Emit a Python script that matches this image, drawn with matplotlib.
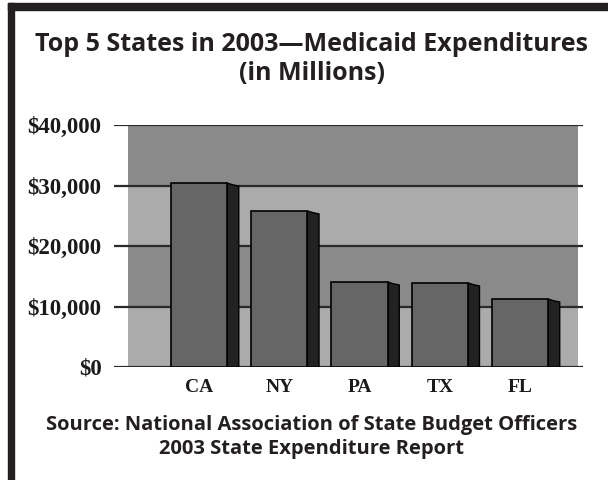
import matplotlib.pyplot as plt
from matplotlib.patches import Rectangle, Polygon
import numpy as np

states = ['CA', 'NY', 'PA', 'TX', 'FL']
spending = [30400, 25800, 14050, 13900, 11240]  # millions of dollars
yticks = [0, 10000, 20000, 30000, 40000]
ytick_labels = ['$0', '$10,000', '$20,000', '$30,000', '$40,000']

title = 'Top 5 States in 2003\u2014Medicaid Expenditures\n(in Millions)'
source = 'Source: National Association of State Budget Officers\n2003 State Expenditure Report'

W, H = 608, 480
fig = plt.figure(figsize=(W / 100, H / 100), dpi=100)
fig.patch.set_facecolor('white')

# frame (top and left thick rules)
ink = '#231f20'
fig.patches.append(Rectangle((8 / W, 1 - 10 / H), 1 - 8 / W, 7 / H,
                             transform=fig.transFigure, color=ink, zorder=0))
fig.patches.append(Rectangle((8 / W, 0), 6 / W, 1 - 3 / H,
                             transform=fig.transFigure, color=ink, zorder=0))

# axes spans from the left end of the gridlines to their right end
ax_l, ax_r, ax_b, ax_t = 114, 583, 367, 125
ax = fig.add_axes([ax_l / W, 1 - ax_b / H, (ax_r - ax_l) / W, (ax_b - ax_t) / H])
ax.set_ylim(0, 40000)
ax.set_xlim(-1.06, 4.785)

# banded background
bg0 = (128 - ax_l) / (ax_r - ax_l)
bg1 = (578 - ax_l) / (ax_r - ax_l)
band_colors = ['#ababab', '#8a8a8a']
for i in range(len(yticks) - 1):
    ax.axhspan(yticks[i], yticks[i + 1], xmin=bg0, xmax=bg1,
               color=band_colors[i % 2], lw=0, zorder=0)
for y in yticks:
    ax.axhline(y, color='#2a2a2a', lw=1.6, zorder=1)

# bars with a dark 3D side face
x = np.arange(len(states))
w = 0.70
depth = 0.145
drop = 500
for xi, v in zip(x, spending):
    right = xi + w / 2
    side = Polygon([(right, v), (right + depth * 0.5, v - drop * 0.6),
                    (right + depth, v - drop), (right + depth, 0), (right, 0)],
                   closed=True, facecolor='#222222', edgecolor='black',
                   lw=1.0, zorder=2)
    ax.add_patch(side)
ax.bar(x, spending, width=w, color='#666666', edgecolor='black',
       linewidth=1.2, zorder=3)

ax.set_yticks(yticks)
ax.set_yticklabels(ytick_labels, fontfamily='Liberation Serif',
                   fontweight='bold', fontsize=16.5, color='#1a1a1a')
ax.set_xticks(x)
ax.set_xticklabels(states, fontfamily='Liberation Serif', fontweight='bold',
                   fontsize=14, color='#1a1a1a')
ax.tick_params(axis='y', length=0, pad=9)
ax.tick_params(axis='x', length=0, pad=9)
for s in ax.spines.values():
    s.set_visible(False)
ax.set_facecolor('none')

fig.text(0.513, 1 - 59 / H, title, ha='center', va='center',
         fontfamily='Open Sans', fontweight='bold', fontsize=18,
         color='#231f20', linespacing=1.22)
fig.text(0.513, 1 - 437 / H, source, ha='center', va='center',
         fontfamily='Open Sans', fontweight='bold', fontsize=14.5,
         color='#231f20', linespacing=1.3)

fig.savefig('out.png', dpi=100)
